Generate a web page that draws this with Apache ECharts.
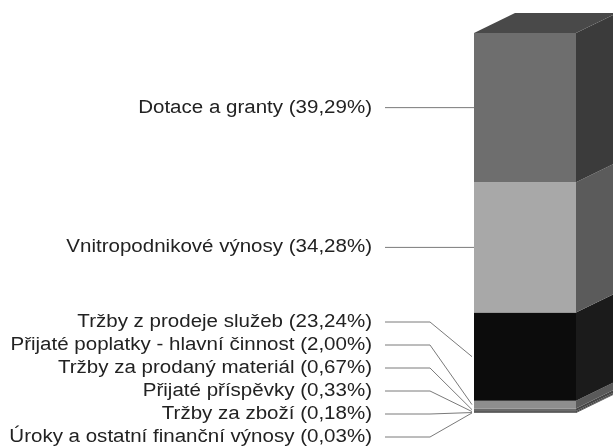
<!DOCTYPE html>
<html><head><meta charset="utf-8">
<script src="https://cdn.jsdelivr.net/npm/echarts@6/dist/echarts.min.js"></script>
<style>html,body{margin:0;padding:0;background:#fff}#c{width:613px;height:446px}</style>
</head><body><div id="c"></div>
<script>
// Data (bottom to top of the stacked bar)
const categories = ['Úroky a ostatní finanční výnosy', 'Tržby za zboží', 'Přijaté příspěvky', 'Tržby za prodaný materiál', 'Přijaté poplatky - hlavní činnost', 'Tržby z prodeje služeb', 'Vnitropodnikové výnosy', 'Dotace a granty'];
const values = [0.03, 0.18, 0.33, 0.67, 2.00, 23.24, 34.28, 39.29];

// Styles
const frontColors = ['#3a3a3a', '#4a4a4a', '#5a5a5a', '#6a6a6a', '#8e8e8e', '#0c0c0c', '#a8a8a8', '#6e6e6e'];
const sideColors = ['#2a2a2a', '#333333', '#3d3d3d', '#454545', '#5a5a5a', '#1b1b1b', '#5b5b5b', '#3b3b3b'];
const topColor = '#494949';
const DX = 41, DY = -20;

let cum = 0;
const items = values.map((v, i) => { const s = cum; cum += v; return [0, s, cum, i]; });
const total = cum;

function fmt(v) { return v.toFixed(2).replace('.', ',') + '%'; }

const chart = echarts.init(document.getElementById('c'), null, { renderer: 'canvas' });
chart.setOption({
  animation: false,
  backgroundColor: '#ffffff',
  grid: { left: 474, right: 37, top: 33, bottom: 33 },
  xAxis: { type: 'category', data: ['all'], show: false },
  yAxis: { type: 'value', min: 0, max: total, show: false },
  series: [{
    type: 'custom',
    clip: false,
    data: items,
    renderItem: function (params, api) {
      const i = api.value(3), s = api.value(1), e = api.value(2);
      const pb = api.coord([0, s]), pt = api.coord([0, e]);
      const base = api.coord([0, 0])[1];
      const w = api.size([1, 0])[0];
      const x0 = pb[0] - w / 2, x1 = pb[0] + w / 2;
      const yb = pb[1], yt = pt[1];
      const mid = (yb + yt) / 2;
      const children = [];
      children.push({ type: 'polygon', shape: { points: [[x1, yb], [x1 + DX, yb + DY], [x1 + DX, yt + DY], [x1, yt]] }, style: { fill: sideColors[i] } });
      children.push({ type: 'rect', shape: { x: x0, y: yt, width: w, height: yb - yt }, style: { fill: frontColors[i] } });
      if (i === values.length - 1) {
        children.push({ type: 'polygon', shape: { points: [[x0, yt], [x0 + DX, yt + DY], [x1 + DX, yt + DY], [x1, yt]] }, style: { fill: topColor } });
      }
      const big = values[i] > 30;
      const ly = big ? mid : base + 24 - i * 23;
      const textRight = x0 - 102;
      const lineStart = x0 - 89;
      const bend = x0 - 44;
      const pts = big ? [[lineStart, ly], [x0, ly]] : [[lineStart, ly], [bend, ly], [x0 - 2, mid]];
      children.push({ type: 'polyline', shape: { points: pts }, style: { stroke: '#7a7a7a', lineWidth: 1, fill: null } });
      children.push({
        type: 'text', x: textRight, y: ly, scaleX: 1.14,
        style: { text: categories[i] + ' (' + fmt(values[i]) + ')', x: 0, y: 0, align: 'right', verticalAlign: 'middle', fill: '#222222', font: '18px "Liberation Sans", Arial, sans-serif' }
      });
      return { type: 'group', children: children };
    }
  }]
});
</script>
</body></html>
